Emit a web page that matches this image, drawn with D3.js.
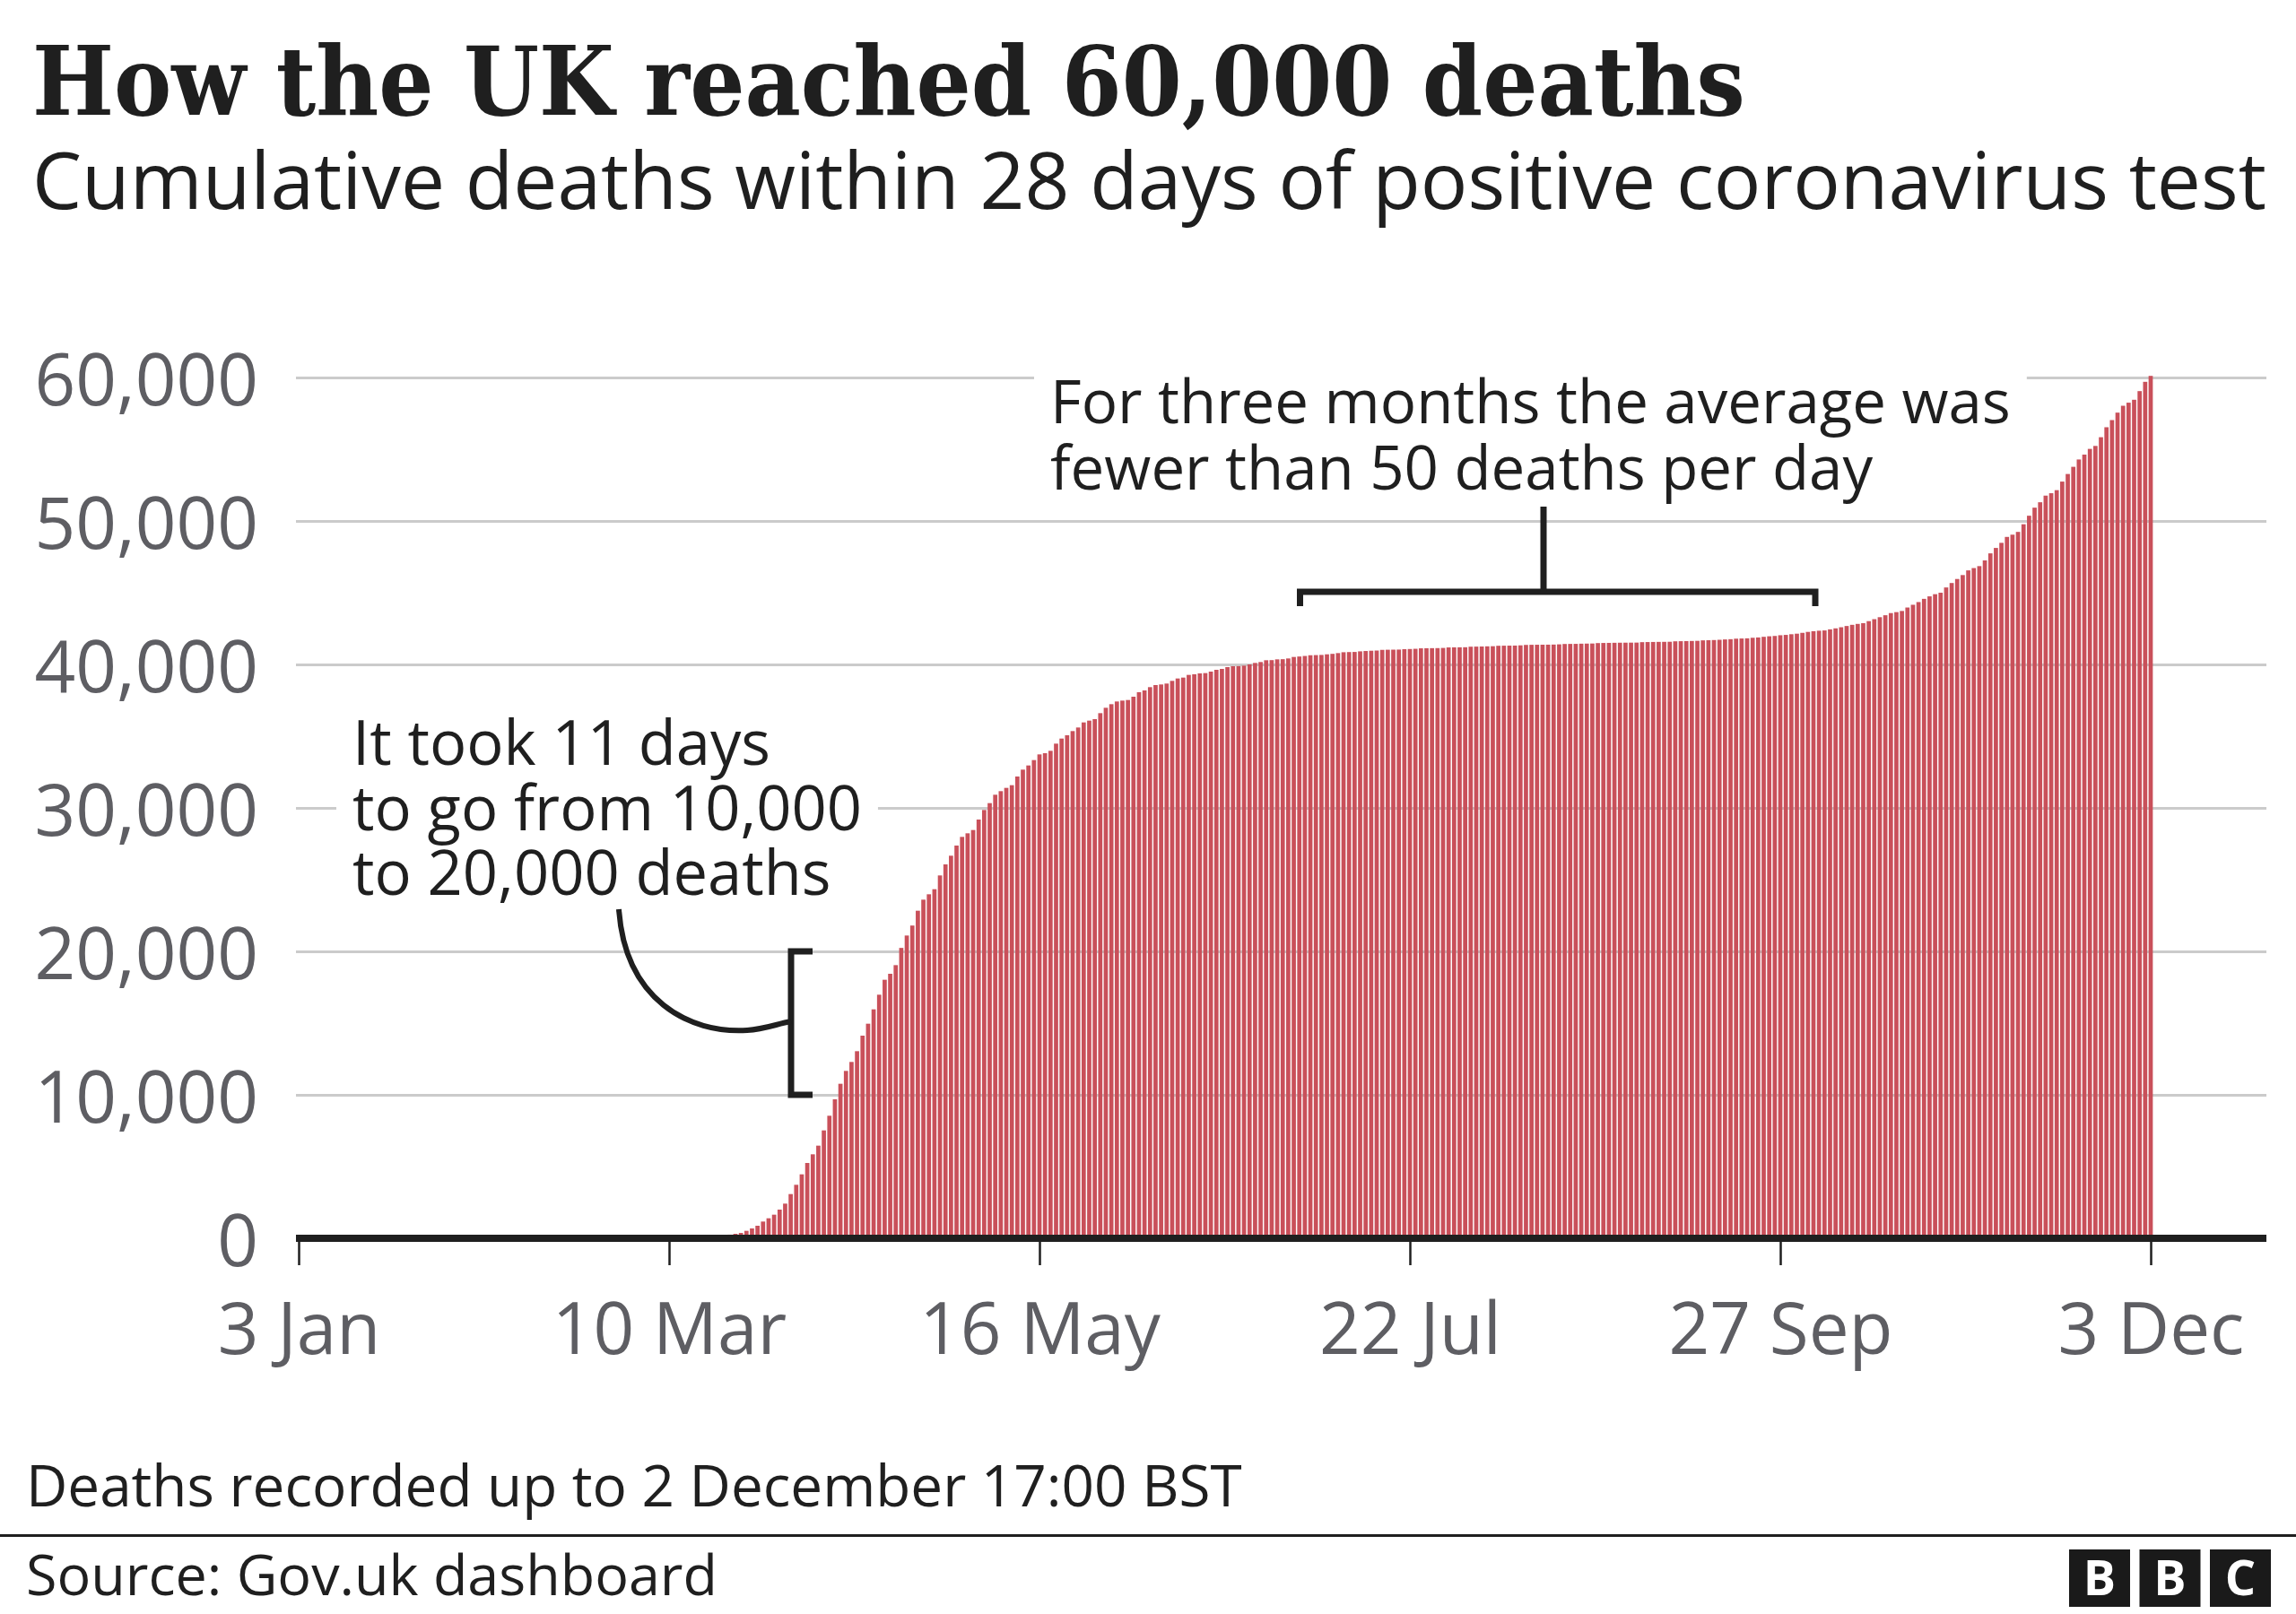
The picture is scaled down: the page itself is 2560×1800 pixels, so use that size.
<!DOCTYPE html>
<html>
<head>
<meta charset="utf-8">
<script src="https://cdn.jsdelivr.net/npm/d3@7"></script>
<style>
  html, body { margin: 0; padding: 0; background: #ffffff; }
  svg { display: block; }
</style>
</head>
<body>
<svg id="chart" width="2560" height="1800"></svg>
<script>
// ---------------- DATA ----------------
// Cumulative deaths within 28 days of a positive test, one value per day.
const monthStarts = ["2020-03-01", "2020-04-01", "2020-05-01", "2020-06-01", "2020-07-01",
                     "2020-08-01", "2020-09-01", "2020-10-01", "2020-11-01", "2020-12-01"];

const march = [0, 0, 0, 0, 1, 2, 2, 3, 4, 6, 8, 10, 21, 35, 55, 71, 104, 144, 177, 233,
               255, 312, 375, 521, 688, 875, 1167, 1396, 1646, 2000, 2417];
const april = [3083, 3729, 4458, 5250, 5854, 6458, 7521, 8542, 9688, 10771, 11667, 12292, 13042,
               14125, 14958, 15958, 16979, 18021, 18438, 19040, 20240, 21104, 21800, 22833, 23604,
               23979, 24333, 25292, 26063, 26667];
const may = [27375, 27979, 28229, 28458, 29188, 29854, 30333, 30917, 31167, 31396, 31583, 32188,
             32667, 32958, 33333, 33729, 33813, 33979, 34479, 34833, 35063, 35354, 35604, 35958,
             36083, 36188, 36604, 36979, 37229, 37417, 37479];
const june = [37521, 37750, 38063, 38188, 38417, 38563, 38604, 38667, 38854, 39021, 39083, 39271,
              39313, 39375, 39396, 39500, 39625, 39688, 39813, 39875, 39885, 39917, 40000, 40104,
              40167, 40292, 40300, 40354, 40365, 40417];
const july = [40521, 40552, 40590, 40640, 40650, 40662, 40705, 40738, 40790, 40850, 40862, 40870,
              40912, 40935, 40955, 40968, 41015, 41025, 41030, 41036, 41062, 41075, 41090, 41122,
              41130, 41134, 41138, 41150, 41185, 41190, 41194];
const august = [41198, 41236, 41242, 41250, 41262, 41270, 41300, 41306, 41310, 41314, 41330, 41360,
                41368, 41372, 41375, 41378, 41384, 41400, 41425, 41430, 41433, 41446, 41452, 41458,
                41488, 41496, 41502, 41508, 41514, 41516, 41519];
const september = [41522, 41552, 41560, 41566, 41572, 41575, 41580, 41612, 41620, 41628, 41636,
                   41645, 41678, 41688, 41700, 41718, 41742, 41760, 41795, 41808, 41820, 41858,
                   41880, 41925, 41962, 41985, 42035, 42058, 42105, 42143];
const october = [42202, 42268, 42317, 42350, 42369, 42445, 42515, 42592, 42679, 42760, 42825, 42875,
                 43018, 43155, 43293, 43429, 43579, 43646, 43726, 43967, 44158, 44347, 44571, 44745,
                 44896, 44998, 45365, 45675, 45955, 46229, 46555];
const november = [46717, 46853, 47250, 47742, 48120, 48475, 48888, 49044, 49238, 49770, 50365,
                  50928, 51304, 51766, 51934, 52147, 52745, 53274, 53775, 54286, 54626, 55024,
                  55230, 55838, 56533, 57031, 57551, 58030, 58245, 58448];
const december = [59051, 59699, 60113];

const monthValues = [march, april, may, june, july, august, september, october, november, december];

const xDomain = ["2020-01-03", "2020-12-03"];
const tickDates = ["2020-01-03", "2020-03-10", "2020-05-16", "2020-07-22", "2020-09-27", "2020-12-03"];
const tickLabels = ["3 Jan", "10 Mar", "16 May", "22 Jul", "27 Sep", "3 Dec"];
const yTicks = [0, 10000, 20000, 30000, 40000, 50000, 60000];

const titleText = "How the UK reached 60,000 deaths";
const subtitleText = "Cumulative deaths within 28 days of positive coronavirus test";
const noteTopLines = ["For three months the average was", "fewer than 50 deaths per day"];
const noteLeftLines = ["It took 11 days", "to go from 10,000", "to 20,000 deaths"];
const footnoteText = "Deaths recorded up to 2 December 17:00 BST";
const sourceText = "Source: Gov.uk dashboard";
const logoLetters = ["B", "B", "C"];

// ---------------- BUILD ----------------
const parseDate = d3.utcParse("%Y-%m-%d");
const data = [];
monthValues.forEach((vals, m) => {
  const start = parseDate(monthStarts[m]);
  vals.forEach((v, i) => data.push({ date: d3.utcDay.offset(start, i), value: v }));
});

const SANS = "'Open Sans', 'Noto Sans', sans-serif";
const SERIF = "'DejaVu Serif Condensed', 'DejaVu Serif', serif";
const INK = "#1f1f1f";
const GREY = "#5e5e63";

const svg = d3.select("#chart");
svg.append("rect").attr("width", 2560).attr("height", 1800).attr("fill", "#ffffff");

const x = d3.scaleUtc().domain(xDomain.map(parseDate)).range([333, 2398]);
const y = d3.scaleLinear().domain([0, 60000]).range([1381, 421]);

function fitWidth(sel, target) {
  const cur = parseFloat(sel.style("font-size"));
  const len = sel.node().getComputedTextLength();
  const size = cur * target / len;
  sel.style("font-size", size + "px");
  return size;
}

// Gridlines + y labels
const yAxis = d3.axisRight(y).tickValues(yTicks).tickSize(2197).tickFormat(d3.format(","));
const yg = svg.append("g").attr("transform", "translate(330,0)").call(yAxis);
yg.select(".domain").remove();
yg.attr("font-family", null).attr("font-size", null);
yg.selectAll(".tick line").attr("stroke", "#cbcbcb").attr("stroke-width", 3)
  .filter(d => d === 0).remove();
yg.selectAll(".tick text")
  .attr("x", -42).attr("dy", "0.375em")
  .attr("text-anchor", "end")
  .attr("fill", GREY)
  .style("font-family", SANS).style("font-size", "80px");

// Annotation layer (white boxes hide gridlines behind text)
const noteLayer = svg.append("g");

// Bars
svg.append("g").selectAll("rect")
  .data(data.filter(d => d.value > 0))
  .join("rect")
  .attr("x", d => x(d.date) - 2.35)
  .attr("width", 4.7)
  .attr("y", d => y(d.value))
  .attr("height", d => y(0) - y(d.value))
  .attr("fill", "#c9505a");

// X axis
const xAxis = d3.axisBottom(x)
  .tickValues(tickDates.map(parseDate))
  .tickFormat((d, i) => tickLabels[i])
  .tickSize(30).tickSizeOuter(0);
const xg = svg.append("g").attr("transform", "translate(0," + y(0) + ")").call(xAxis);
xg.select(".domain").remove();
xg.attr("font-family", null).attr("font-size", null);
xg.selectAll(".tick line").attr("stroke", INK).attr("stroke-width", 2.5);
xg.selectAll(".tick text")
  .attr("y", 129).attr("dy", 0)
  .attr("fill", GREY)
  .style("font-family", SANS).style("font-size", "80px");
svg.append("line")
  .attr("x1", 330).attr("x2", 2527)
  .attr("y1", y(0)).attr("y2", y(0))
  .attr("stroke", INK).attr("stroke-width", 8);

// Title & subtitle
const title = svg.append("text").text(titleText)
  .attr("x", 36).attr("y", 128).attr("fill", INK)
  .style("font-family", SERIF).style("font-weight", "bold").style("font-stretch", "condensed")
  .style("font-size", "110px");
fitWidth(title, 1910);
const subtitle = svg.append("text").text(subtitleText)
  .attr("x", 36).attr("y", 233).attr("fill", INK)
  .style("font-family", SANS).style("font-size", "84px");
fitWidth(subtitle, 2491);

// Annotations: one text element per note, one tspan per line
function addNote(lines, x0, y0, lineGap, fitIndex, fitTarget) {
  const g = noteLayer.append("g");
  const bg = g.append("rect").attr("fill", "#ffffff");
  const t = g.append("text").attr("fill", INK)
    .style("font-family", SANS).style("font-size", "66px");
  const spans = lines.map((s, i) => t.append("tspan").text(s)
    .attr("x", x0).attr("y", y0 + i * lineGap));
  const cur = 66;
  const len = spans[fitIndex].node().getComputedTextLength();
  t.style("font-size", (cur * fitTarget / len) + "px");
  const bb = t.node().getBBox();
  bg.attr("x", bb.x - 18).attr("y", bb.y).attr("width", bb.width + 36).attr("height", bb.height);
}
addNote(noteTopLines, 1171, 472, 74, 0, 1071);
addNote(noteLeftLines, 393, 853, 72.5, 1, 568);

const brackets = svg.append("g")
  .attr("fill", "none").attr("stroke", INK).attr("stroke-linejoin", "miter").attr("stroke-linecap", "butt");
brackets.append("path").attr("stroke-width", 7)
  .attr("d", "M1449.5,676 V660 H2024 V676");
brackets.append("path").attr("stroke-width", 7)
  .attr("d", "M1721,660 V565");
brackets.append("path").attr("stroke-width", 7)
  .attr("d", "M906," + y(20000) + " H882 V" + y(10000) + " H906");
brackets.append("path").attr("stroke-width", 6)
  .attr("d", "M690,1014 C697,1115 768,1153 833,1149 C852,1148 866,1142 882,1139");

// Footer
const foot = svg.append("text").text(footnoteText)
  .attr("x", 29).attr("y", 1680).attr("fill", INK)
  .style("font-family", SANS).style("font-size", "64px");
fitWidth(foot, 1356);
svg.append("line").attr("x1", 0).attr("x2", 2560).attr("y1", 1712.5).attr("y2", 1712.5)
  .attr("stroke", INK).attr("stroke-width", 3);
const src = svg.append("text").text(sourceText)
  .attr("x", 29).attr("y", 1779).attr("fill", INK)
  .style("font-family", SANS).style("font-size", "64px");
fitWidth(src, 771);

// BBC logo
const logo = svg.append("g");
logoLetters.forEach((ch, i) => {
  const bx = 2307 + i * 78.5;
  logo.append("rect").attr("x", bx).attr("y", 1728).attr("width", 68).attr("height", 64).attr("fill", "#1a1a1a");
  logo.append("text").text(ch)
    .attr("x", bx + 34).attr("y", 1779).attr("text-anchor", "middle").attr("fill", "#ffffff")
    .style("font-family", SANS).style("font-weight", "bold").style("font-size", "54px");
});
</script>
</body>
</html>
